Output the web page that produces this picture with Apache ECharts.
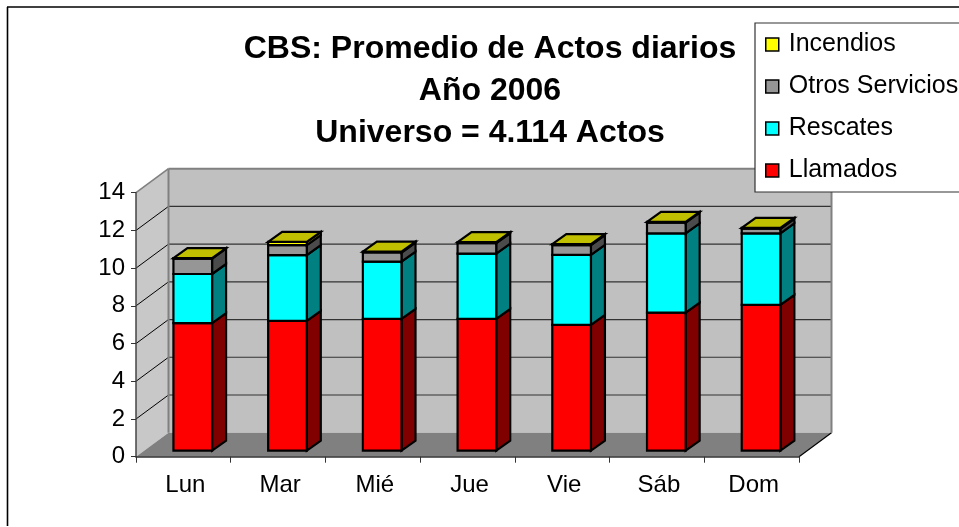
<!DOCTYPE html>
<html><head><meta charset="utf-8">
<style>html,body{margin:0;padding:0;background:#fff}#c{width:959px;height:527px}</style>
<script src="https://cdn.jsdelivr.net/npm/echarts@6/dist/echarts.min.js"></script>
</head><body><div id="c"></div>
<script>
const categories = ['Lun','Mar','Mié','Jue','Vie','Sáb','Dom'];
const llamados   = [6.77,6.88,6.99,6.99,6.67,7.32,7.73];
const rescates   = [2.60,3.49,3.04,3.46,3.71,4.21,3.80];
const otros      = [0.82,0.53,0.48,0.56,0.52,0.57,0.24];
const incendios  = [0.02,0.17,0.05,0.05,0.05,0.03,0.05];
const yTicks = [0,2,4,6,8,10,12,14];
const titleText = 'CBS: Promedio de Actos diarios\nAño 2006\nUniverso = 4.114 Actos';
const FONT = '"Liberation Sans", Arial, sans-serif';
const WALL = [32.5, 24], BAR_OFF = [9.4, 6], BAR_D = [14, 10], BAR_W = 0.408;

const palette = {
  Llamados: ['#ff0000','#800000','#c00000'],
  Rescates: ['#00ffff','#008080','#00c0c0'],
  'Otros Servicios': ['#969696','#4b4b4b','#717171'],
  Incendios: ['#ffff00','#808000','#c0c000']
};
const LW = 2.2;
function poly(points, fill, stroke, lw){
  return {type:'polygon', shape:{points}, style:{fill, stroke:stroke||'none', lineWidth:lw||0, lineJoin:'miter'}, silent:true};
}
function line(a, b, stroke, lw){
  return {type:'line', shape:{x1:a[0],y1:a[1],x2:b[0],y2:b[1]}, style:{stroke, lineWidth:lw}, silent:true};
}
function barSeries(name, vals, bases, isTop){
  const cols = palette[name];
  return {
    name, type:'custom', coordinateSystem:'cartesian2d', z:5, clip:false,
    itemStyle:{color:cols[0]},
    encode:{x:0,y:[1,2]},
    data: vals.map((v,i)=>[i,bases[i],bases[i]+v]),
    renderItem(params, api){
      const i=api.value(0), band=api.size([1,0])[0], w=band*BAR_W;
      const c0=api.coord([i,api.value(1)]), c1=api.coord([i,api.value(2)]);
      const x0=c0[0]+BAR_OFF[0]-w/2, x1=x0+w, yb=c0[1]-BAR_OFF[1], yt=c1[1]-BAR_OFF[1];
      const dx=BAR_D[0], dy=BAR_D[1];
      const ch=[
        poly([[x1,yb],[x1+dx,yb-dy],[x1+dx,yt-dy],[x1,yt]],cols[1],'#000',LW),
        poly([[x0,yb],[x1,yb],[x1,yt],[x0,yt]],cols[0],'#000',LW)
      ];
      if(isTop) ch.push(poly([[x0,yt],[x1,yt],[x1+dx,yt-dy],[x0+dx,yt-dy]],cols[2],'#000',LW));
      return {type:'group',children:ch};
    }
  };
}
const base1 = llamados.slice();
const base2 = llamados.map((v,i)=>v+rescates[i]);
const base3 = base2.map((v,i)=>v+otros[i]);

const wallSeries = {
  type:'custom', coordinateSystem:'cartesian2d', z:1, clip:false, silent:true,
  encode:{x:0,y:1},
  data:[[0,yTicks[0],yTicks[yTicks.length-1]]],
  renderItem(params, api){
    const band=api.size([1,0])[0];
    const bl=api.coord([0,api.value(1)]), tl=api.coord([0,api.value(2)]);
    const xl=bl[0]-band/2, xr=xl+band*categories.length, yb=bl[1], yt=tl[1];
    const dx=WALL[0], dy=WALL[1];
    return {type:'group',children:[
      poly([[xl+dx,yt-dy],[xr+dx,yt-dy],[xr+dx,yb-dy],[xl+dx,yb-dy]],'#c0c0c0'),
      poly([[xl,yt],[xl+dx,yt-dy],[xl+dx,yb-dy],[xl,yb]],'#c8c8c8'),
      poly([[xl,yb],[xr,yb],[xr+dx,yb-dy],[xl+dx,yb-dy]],'#808080'),
    ]};
  }
};
const gridSeries = {
  type:'custom', coordinateSystem:'cartesian2d', z:2, clip:false, silent:true,
  encode:{x:0,y:1},
  data:yTicks.map(t=>[0,t]),
  renderItem(params, api){
    const band=api.size([1,0])[0], t=api.value(1);
    const p=api.coord([0,t]);
    const xl=p[0]-band/2, xr=xl+band*categories.length, y=p[1];
    const dx=WALL[0], dy=WALL[1];
    const ch=[];
    if(t===0){
      ch.push(line([xr,y],[xr+dx,y-dy],'#000',1.2));
    } else if(t===yTicks[yTicks.length-1]){
      ch.push(line([xl,y],[xl+dx,y-dy],'#808080',1.6));
      ch.push(line([xl+dx,y-dy],[xr+dx,y-dy],'#808080',2));
    } else {
      ch.push(line([xl,y],[xl+dx,y-dy],'#000',1));
      ch.push(line([xl+dx,y-dy],[xr+dx,y-dy],'#333',1.2));
    }
    return {type:'group',children:ch};
  }
};
const edgeSeries = {
  type:'custom', coordinateSystem:'cartesian2d', z:2, clip:false, silent:true,
  encode:{x:0,y:[1,2]},
  data:[[0,yTicks[0],yTicks[yTicks.length-1]]],
  renderItem(params, api){
    const band=api.size([1,0])[0];
    const bl=api.coord([0,api.value(1)]), tl=api.coord([0,api.value(2)]);
    const xl=bl[0]-band/2, xr=xl+band*categories.length;
    const dx=WALL[0], dy=WALL[1];
    return {type:'group',children:[
      line([xl+dx,tl[1]-dy],[xl+dx,bl[1]-dy],'#808080',2),
      line([xr+dx,tl[1]-dy],[xr+dx,bl[1]-dy],'#808080',2)
    ]};
  }
};

const chart = echarts.init(document.getElementById('c'),null,{renderer:'canvas'});
chart.setOption({
  animation:false,
  backgroundColor:'#fff',
  title:{
    text:titleText, left:485, top:23, textAlign:'center',
    textStyle:{fontFamily:FONT,fontWeight:'bold',fontSize:32,color:'#000',lineHeight:42}
  },
  legend:{
    left:755, top:23, orient:'vertical', icon:'rect',
    data:['Incendios','Otros Servicios','Rescates','Llamados'],
    itemWidth:13, itemHeight:13, itemGap:15, padding:[8,30,8,10],
    backgroundColor:'#fff', borderColor:'#333', borderWidth:1.2,
    itemStyle:{borderColor:'#000',borderWidth:1.5},
    textStyle:{fontFamily:FONT,fontSize:25,color:'#000',lineHeight:27,padding:[0,0,0,5]},
    selectedMode:false
  },
  grid:{left:136,right:160,top:192.7,bottom:70.3},
  xAxis:{
    type:'category', data:categories, z:4,
    axisLine:{lineStyle:{color:'#333',width:1.5}},
    axisTick:{show:true,length:6,lineStyle:{color:'#333',width:1}},
    axisLabel:{fontFamily:FONT,fontSize:24,color:'#000',margin:17,padding:[0,0,0,4]},
    splitLine:{show:false}
  },
  yAxis:{
    type:'value', min:0, max:14, interval:2, z:4,
    axisLine:{show:true,lineStyle:{color:'#444',width:1.5}},
    axisTick:{show:true,length:5,lineStyle:{color:'#333',width:1}},
    axisLabel:{fontFamily:FONT,fontSize:24,color:'#000',margin:11},
    splitLine:{show:false}
  },
  graphic:[
    {type:'line',shape:{x1:7.5,y1:7,x2:7.5,y2:526},style:{stroke:'#000',lineWidth:1.6},silent:true},
    {type:'line',shape:{x1:7,y1:7,x2:959,y2:7},style:{stroke:'#000',lineWidth:1.6},silent:true}
  ],
  series:[
    wallSeries, gridSeries, edgeSeries,
    barSeries('Llamados',llamados,llamados.map(()=>0),false),
    barSeries('Rescates',rescates,base1,false),
    barSeries('Otros Servicios',otros,base2,false),
    barSeries('Incendios',incendios,base3,true)
  ]
});
</script></body></html>
